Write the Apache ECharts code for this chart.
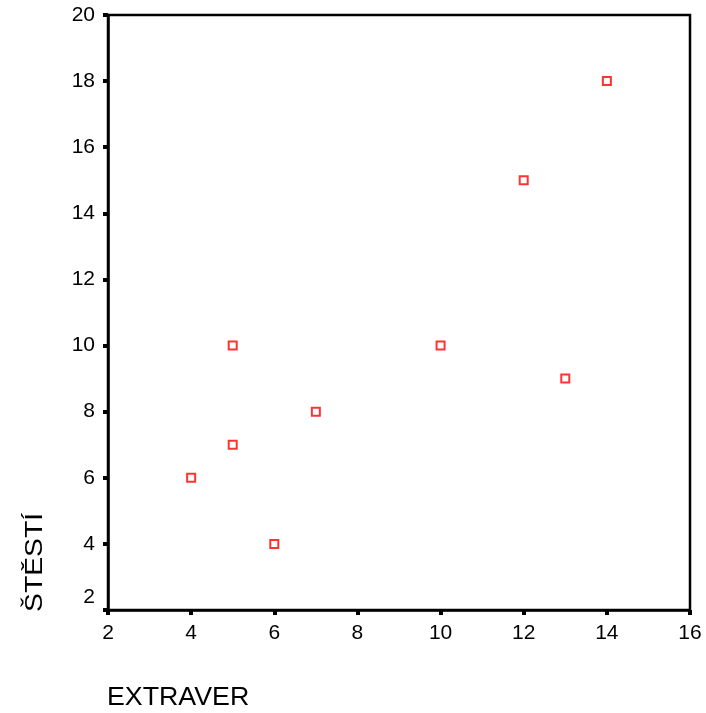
<!DOCTYPE html>
<html><head><meta charset="utf-8">
<script src="https://cdn.jsdelivr.net/npm/echarts@6/dist/echarts.min.js"></script>
<style>html,body{margin:0;padding:0;background:#fff}#c{width:706px;height:713px}</style>
</head><body><div id="c"></div>
<script>
const extraver = [4, 5, 5, 6, 7, 10, 12, 13, 14];
const stesti = [6, 10, 7, 4, 8, 10, 15, 9, 18];
const xTitle = 'EXTRAVER';
const yTitle = 'ŠTĚSTÍ';
const data = extraver.map((x, i) => [x, stesti[i]]);
const chart = echarts.init(document.getElementById('c'));
const font = 'Liberation Sans, Arial, sans-serif';
chart.setOption({
  animation: false,
  grid: {left: 108, top: 15, right: 16, bottom: 103, show: true, borderColor: '#000', borderWidth: 2.5, backgroundColor: 'transparent'},
  xAxis: {type: 'value', min: 2, max: 16, interval: 2,
    axisLine: {lineStyle: {color: '#000', width: 2.5}},
    axisTick: {length: 5, lineStyle: {color: '#000', width: 4}},
    axisLabel: {color: '#000', fontSize: 21, fontFamily: font, margin: 13},
    splitLine: {show: false}},
  yAxis: {type: 'value', min: 2, max: 20, interval: 2,
    axisLine: {lineStyle: {color: '#000', width: 2.5}},
    axisTick: {length: 5, lineStyle: {color: '#000', width: 4}},
    axisLabel: {color: '#000', fontSize: 21, fontFamily: font, margin: 13,
      formatter: v => v === 2 ? '{low|' + v + '}' : String(v),
      rich: {low: {fontSize: 21, fontFamily: font, color: '#000', padding: [0, 0, 26, 0]}}},
    splitLine: {show: false}},
  graphic: [
    {type: 'text', x: 107, y: 686, scaleX: 1.07, style: {text: xTitle, fontSize: 25, fontFamily: font, fill: '#000', align: 'left', verticalAlign: 'top'}},
    {type: 'text', x: 23, y: 612, rotation: Math.PI / 2, scaleX: 1.18, style: {text: yTitle, fontSize: 24, fontFamily: font, fill: '#000', align: 'left', verticalAlign: 'top'}}
  ],
  series: [{type: 'scatter', data: data, symbol: 'rect', symbolSize: 8,
    itemStyle: {color: '#fff', borderColor: '#ff0000', borderWidth: 2}}]
});
</script></body></html>
